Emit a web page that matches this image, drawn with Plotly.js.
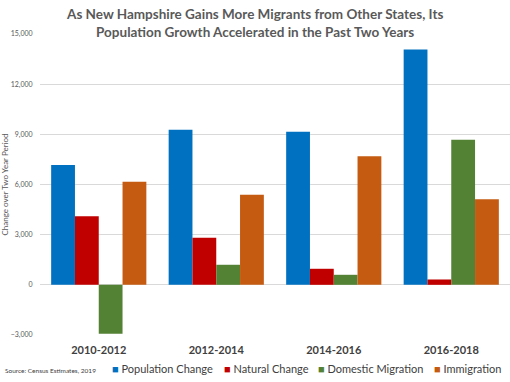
<!DOCTYPE html>
<html><head><meta charset="utf-8">
<script src="https://cdn.plot.ly/plotly-3.0.1.min.js"></script>
<style>body{margin:0;background:#fff}#c{width:510px;height:382px}</style>
</head><body><div id="c"></div>
<script>
const categories = ["2010-2012", "2012-2014", "2014-2016", "2016-2018"];
const populationChange = [7170, 9280, 9160, 14080];
const naturalChange = [4100, 2810, 960, 320];
const domesticMigration = [-2930, 1200, 600, 8670];
const immigration = [6160, 5380, 7690, 5120];
const seriesNames = ["Population Change", "Natural Change", "Domestic Migration", "Immigration"];
const colors = ["#0070C0", "#C00000", "#548235", "#C55A11"];
const yTicks = [-3000, 0, 3000, 6000, 9000, 12000, 15000];

const vals = [populationChange, naturalChange, domesticMigration, immigration];
const traces = vals.map((v, i) => ({
  type: "bar", x: categories, y: v, name: seriesNames[i],
  marker: {color: colors[i]}, hoverinfo: "skip", showlegend: false
}));

// legend drawn as text entries (square + name)
const legendX = [110, 222, 316, 432];
const legendAnn = seriesNames.map((n, i) => ({
  text: '<span style="color:' + colors[i] + '">■</span> ' + n,
  xref: "paper", yref: "paper", x: (legendX[i] - 40) / 470, y: (335 - 368) / 301,
  xanchor: "left", yanchor: "middle", showarrow: false,
  font: {family: "Lato", size: 11, color: "#404040"}
}));

const layout = {
  width: 510, height: 382,
  margin: {l: 40, r: 0, t: 34, b: 47},
  paper_bgcolor: "#fff", plot_bgcolor: "#fff",
  barmode: "group", bargap: 0.19, bargroupgap: 0,
  xaxis: {showgrid: false, showline: false, ticks: "outside", ticklen: 5, tickcolor: "rgba(0,0,0,0)",
    tickfont: {family: "Lato", size: 11, color: "#404040", weight: "bold"}},
  yaxis: {range: [-3000, 15000], tickvals: yTicks, tickformat: ",d",
    gridcolor: "#d9d9d9", gridwidth: 1, zeroline: true, zerolinecolor: "#d9d9d9", zerolinewidth: 1,
    tickfont: {family: "Lato", size: 7, color: "#595959"}, ticks: "outside", ticklen: 5, tickcolor: "rgba(0,0,0,0)",
    title: {text: "Change over Two Year Period", font: {family: "Lato", size: 8, color: "#595959"}, standoff: 5}},
  showlegend: false,
  annotations: [
    {text: "As New Hampshire Gains More Migrants from Other States, Its<br>Population Growth Accelerated in the Past Two Years",
      xref: "paper", yref: "paper", x: (254 - 40) / 470, y: (335 - 4) / 301, xanchor: "center", yanchor: "top",
      showarrow: false, align: "center",
      font: {family: "Lato", size: 13.5, color: "#595959", weight: "bold"}},
    {text: "Source: Census Estimates, 2019", xref: "paper", yref: "paper",
      x: (3 - 40) / 470, y: (335 - 370) / 301, xanchor: "left", yanchor: "middle", showarrow: false,
      font: {family: "Lato", size: 6.5, color: "#404040"}}
  ].concat(legendAnn)
};
Plotly.newPlot("c", traces, layout, {displayModeBar: false, staticPlot: true});
</script></body></html>
